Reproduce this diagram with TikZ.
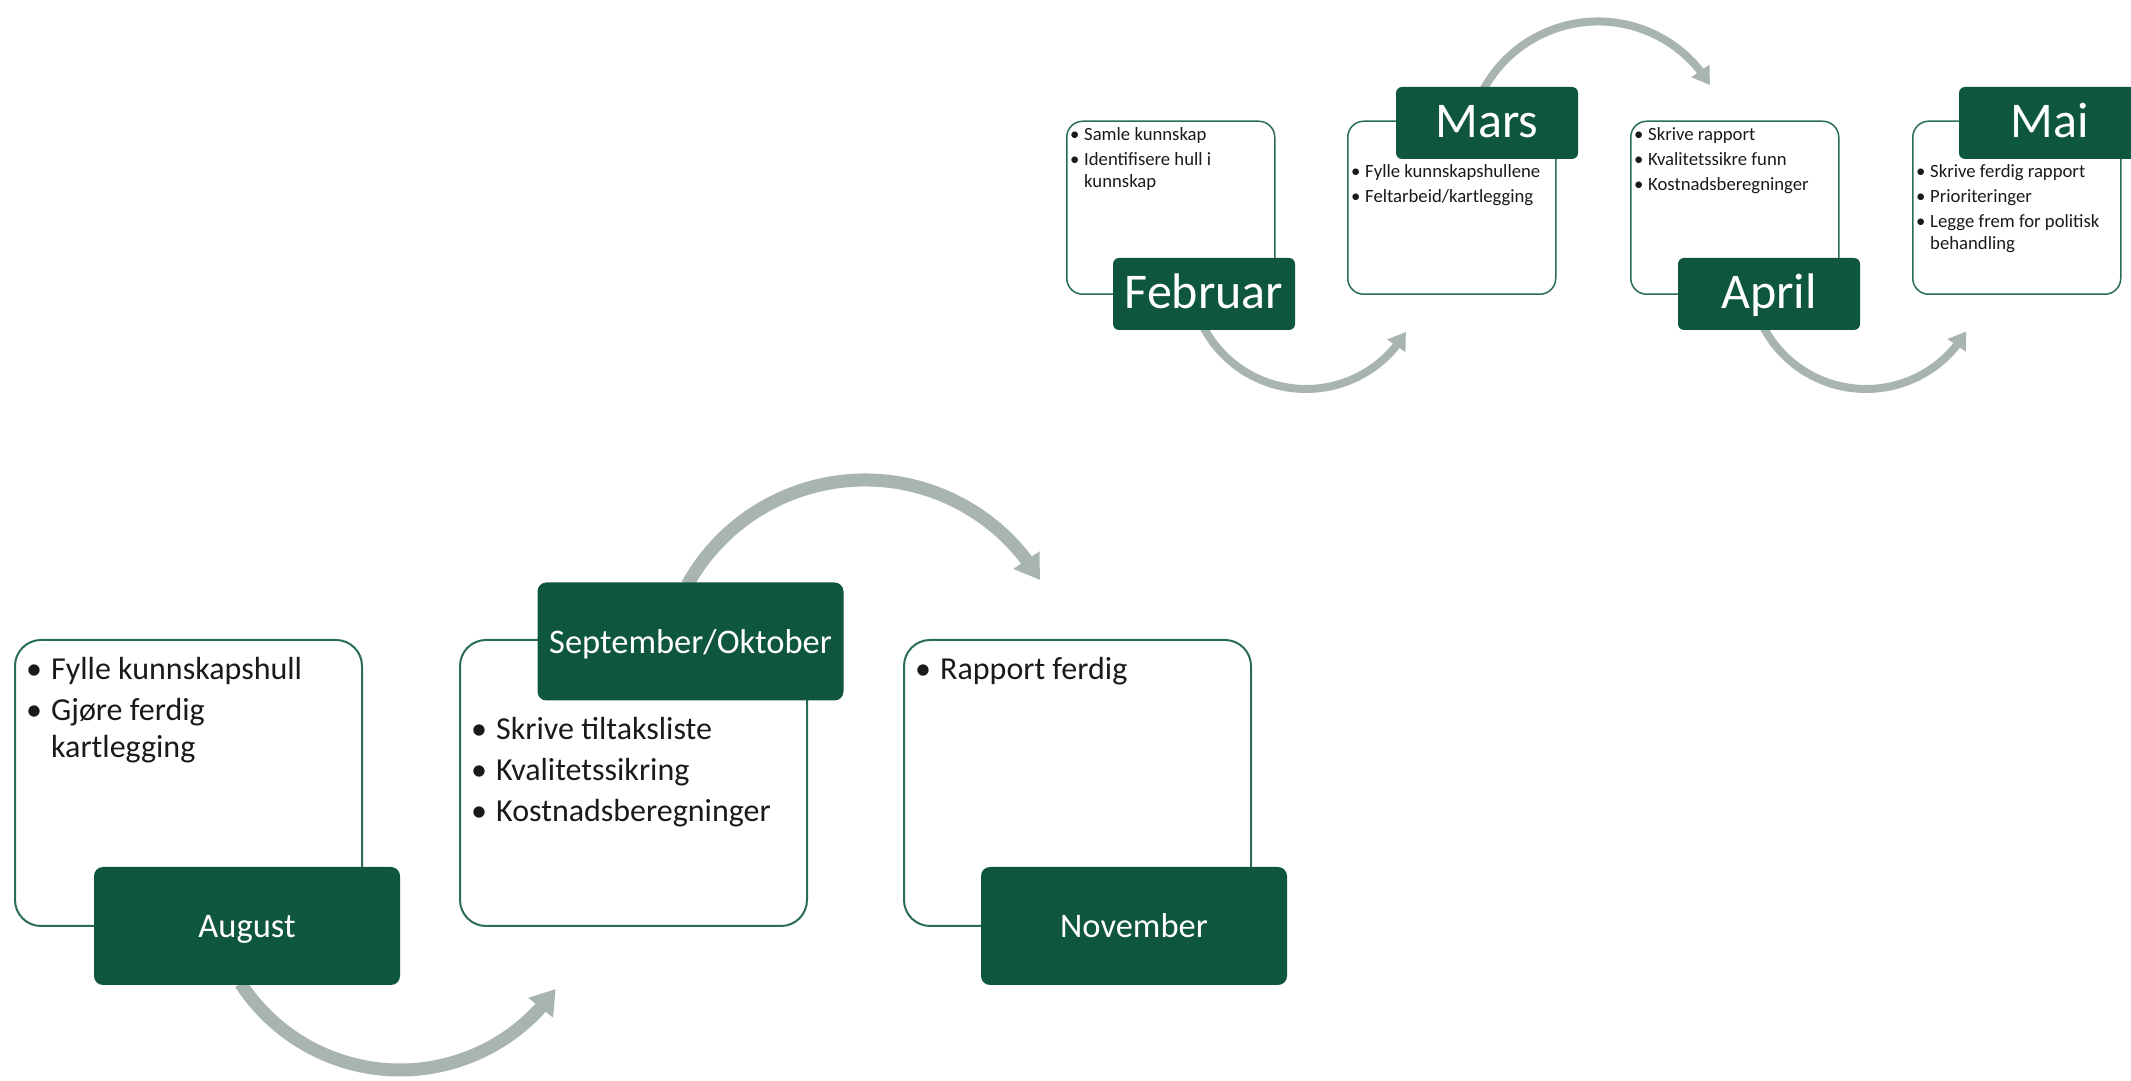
\documentclass[tikz,border=0pt]{standalone}
\usepackage{fontspec}
\setmainfont{Carlito}
\usetikzlibrary{arrows.meta,bending,calc}
\definecolor{labelgreen}{HTML}{0F5640}
\definecolor{boxline}{HTML}{2A6E52}
\definecolor{arrowgray}{HTML}{A8B5AE}
\definecolor{txt}{HTML}{1A1A1A}
\newcommand\bigbul{\makebox[25pt][l]{•}}
\newcommand\bigind{\hspace*{25pt}}
\newcommand\smbul{\makebox[14pt][l]{•}}
\newcommand\smind{\hspace*{14pt}}
\begin{document}
\begin{tikzpicture}[x=1pt,y=1pt,
  textbox/.style={draw=boxline, line width=2pt, fill=white, rounded corners=26pt, inner sep=0pt, anchor=south west, minimum width=347pt, minimum height=286pt},
  stextbox/.style={draw=boxline, line width=1.5pt, fill=white, rounded corners=16pt, inner sep=0pt, anchor=south west, minimum width=208pt, minimum height=173pt},
  biglabel/.style={fill=labelgreen, text=white, rounded corners=9pt, minimum width=306pt, minimum height=118pt, inner sep=0pt, text height=23.5pt, text depth=0pt, font=\fontsize{34.5}{40}\selectfont},
  smalllabel/.style={fill=labelgreen, text=white, rounded corners=6pt, minimum width=182pt, minimum height=72pt, inner sep=0pt, text height=29pt, text depth=0pt, font=\fontsize{50}{58}\selectfont},
  bigtext/.style={anchor=base west, inner sep=0pt, text=txt, font=\fontsize{32}{37}\selectfont},
  smalltext/.style={anchor=base west, inner sep=0pt, text=txt, font=\fontsize{18.7}{21.5}\selectfont},
  bigarrow/.style={draw=arrowgray, line width=13pt, -{Triangle[width=30pt,length=24pt]}},
  smallarrow/.style={draw=arrowgray, line width=8pt, -{Triangle[width=21pt,length=17pt]}},
]
\clip (0,0) rectangle (2131,1081);
\fill[white] (0,0) rectangle (2131,1081);

% arc centres
\coordinate (c1) at (400,201);
\coordinate (c2) at (865,398);
\coordinate (c3) at (1306,808);
\coordinate (c4) at (1598,929);
\coordinate (c5) at (1866,808);

% arrows
\draw[bigarrow] ($(c1)+(213:190)$) arc[start angle=213, end angle=325, radius=190];
\draw[bigarrow] ($(c2)+(151:203)$) arc[start angle=151, end angle=30.5, radius=203];
\draw[smallarrow] ($(c3)+(208:116)$) arc[start angle=208, end angle=329.5, radius=116];
\draw[smallarrow] ($(c4)+(152:130.5)$) arc[start angle=152, end angle=30.9, radius=130.5];
\draw[smallarrow] ($(c5)+(208:116)$) arc[start angle=208, end angle=329.8, radius=116];

% bottom row boxes
\node[textbox] (augbox) at (14,154) {};
\node[textbox] (sepbox) at (459,154) {};
\node[textbox] (novbox) at (903,154) {};
\node[biglabel] (auglabel) at (247,155) {August};
\node[biglabel] (seplabel) at (690.5,439.5) {September/Oktober};
\node[biglabel] (novlabel) at (1134,155) {November};

\node[bigtext] (augtext) at (26,401) {\begin{tabular}[t]{@{}l@{}}\bigbul Fylle kunnskapshull\\[4pt]\bigbul Gjøre ferdig\\\bigind kartlegging\end{tabular}};
\node[bigtext] (septext) at (471,341) {\begin{tabular}[t]{@{}l@{}}\bigbul Skrive tiltaksliste\\[4pt]\bigbul Kvalitetssikring\\[4pt]\bigbul Kostnadsberegninger\end{tabular}};
\node[bigtext] (novtext) at (915,401) {\begin{tabular}[t]{@{}l@{}}\bigbul Rapport ferdig\end{tabular}};

% top row boxes
\node[stextbox] (febbox) at (1066,786) {};
\node[stextbox] (marbox) at (1347,786) {};
\node[stextbox] (aprbox) at (1630,786) {};
\node[stextbox] (maibox) at (1912,786) {};
\node[smalllabel] (feblabel) at (1204,787) {Februar};
\node[smalllabel] (marlabel) at (1487,958) {Mars};
\node[smalllabel] (aprlabel) at (1769,787) {April};
\node[smalllabel] (mailabel) at (2050,958) {Mai};

\node[smalltext] (febtext) at (1070,940) {\begin{tabular}[t]{@{}l@{}}\smbul Samle kunnskap\\[3.5pt]\smbul Identifisere hull i\\\smind kunnskap\end{tabular}};
\node[smalltext] (martext) at (1351,903) {\begin{tabular}[t]{@{}l@{}}\smbul Fylle kunnskapshullene\\[3.5pt]\smbul Feltarbeid/kartlegging\end{tabular}};
\node[smalltext] (aprtext) at (1634,940) {\begin{tabular}[t]{@{}l@{}}\smbul Skrive rapport\\[3.5pt]\smbul Kvalitetssikre funn\\[3.5pt]\smbul Kostnadsberegninger\end{tabular}};
\node[smalltext] (maitext) at (1916,903) {\begin{tabular}[t]{@{}l@{}}\smbul Skrive ferdig rapport\\[3.5pt]\smbul Prioriteringer\\[3.5pt]\smbul Legge frem for politisk\\\smind behandling\end{tabular}};
\end{tikzpicture}
\end{document}
